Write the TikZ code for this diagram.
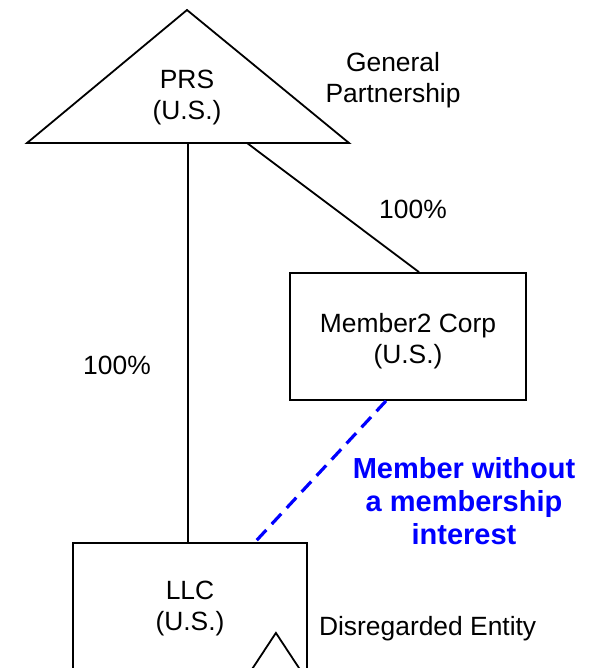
\documentclass[tikz,border=0pt]{standalone}
\usepackage{fontspec}
\setmainfont{Liberation Sans}
\usetikzlibrary{calc,positioning}

\begin{document}
\begin{tikzpicture}[
        x=0.5pt, y=-0.5pt,
        every node/.style={align=center, font=\fontsize{13.2}{15.5}\selectfont},
        entity/.style={draw, line width=0.9pt, inner sep=0pt},
        link/.style={line width=0.9pt},
        member/.style={draw=blue, line width=1.6pt, dash pattern=on 7pt off 4pt},
        note/.style={text=blue, font=\fontsize{14.5}{16.5}\selectfont\bfseries}
    ]
    \clip (0,0) rectangle (592,668);

    % PRS Partnership Triangle
    \coordinate (apex) at (187,10);
    \coordinate (baseL) at (27,143);
    \coordinate (baseR) at (349,143);
    \draw[link] (apex) -- (baseR) -- (baseL) -- cycle;
    \node (prs) at (187,97.5) {PRS\\(U.S.)};
    \node (gp) at (393,80) {General\\Partnership};

    % Member2 Corp Node
    \node[entity, minimum width=118pt, minimum height=63.5pt] (corp) at (408,336.5) {\rule{0pt}{14.6pt}Member2 Corp\\(U.S.)};

    % LLC Node
    \node[entity, minimum width=117pt, minimum height=65.5pt] (llc) at (190,608.5) {LLC\\(U.S.)};
    \draw[link] ($(llc.south east)+(-7,-4)$) -- ++(-25,-38) -- ++(-25,38) -- cycle;
    \node[anchor=west] (dre) at (312,629) {Disregarded Entity};

    % Ownership Lines
    \coordinate (stem) at (188,143);
    \coordinate (branch) at (247,143);
    \draw[link] (stem) -- (stem |- llc.north);
    \draw[link] (branch) -- ($(corp.north)+(11,0)$);
    \node (pctcorp) at (413,209) {100\%};
    \node (pctllc) at (117,365) {100\%};

    % Member Without Interest
    \draw[member] ($(corp.south)+(-22,0)$) -- ($(llc.north)+(65,0)$);
    \node[note] (mwi) at (464,501) {Member without\\a membership\\interest};

\end{tikzpicture}
\end{document}
